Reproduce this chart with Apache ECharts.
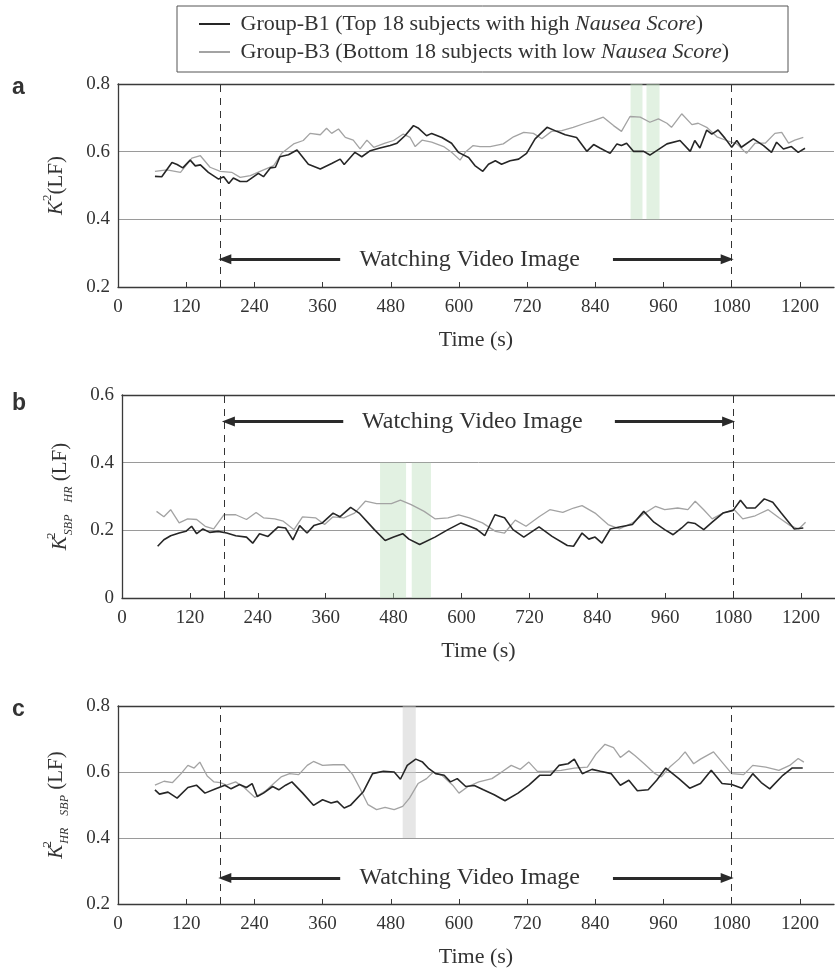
<!DOCTYPE html>
<html>
<head>
<meta charset="utf-8">
<script src="https://cdn.jsdelivr.net/npm/echarts@6/dist/echarts.min.js"></script>
<style>
  html, body { margin: 0; padding: 0; background: #fff; }
  #chart { width: 835px; height: 969px; }
</style>
</head>
<body>
<div id="chart"></div>
<script>
const serif = 'Liberation Serif, Times New Roman, serif';

const nameB1 = 'Group-B1 (Top 18 subjects with high Nausea Score)';
const nameB3 = 'Group-B3 (Bottom 18 subjects with low Nausea Score)';
const annotation = 'Watching Video Image';
const panelLetters = ['a', 'b', 'c'];

// [time (s), value]
const aB1 = [[65,0.527],[77,0.526],[95,0.568],[104,0.562],[114,0.552],[127,0.575],[136,0.558],[145,0.561],[159,0.539],[177,0.519],[186,0.526],[195,0.506],[203,0.522],[215,0.512],[227,0.512],[247,0.536],[256,0.526],[268,0.552],[277,0.554],[285,0.585],[300,0.591],[315,0.605],[335,0.563],[356,0.549],[376,0.565],[391,0.578],[398,0.562],[417,0.598],[429,0.585],[444,0.603],[461,0.611],[479,0.618],[491,0.625],[505,0.647],[520,0.677],[529,0.669],[543,0.647],[552,0.654],[570,0.642],[587,0.625],[599,0.598],[617,0.583],[628,0.559],[642,0.542],[652,0.563],[664,0.573],[675,0.563],[690,0.573],[705,0.578],[719,0.595],[734,0.638],[755,0.672],[772,0.660],[787,0.650],[807,0.642],[825,0.601],[837,0.621],[848,0.611],[866,0.595],[878,0.623],[886,0.618],[895,0.625],[907,0.601],[925,0.601],[936,0.590],[948,0.603],[966,0.623],[989,0.633],[1007,0.601],[1015,0.633],[1024,0.611],[1036,0.664],[1045,0.652],[1056,0.664],[1068,0.640],[1080,0.613],[1089,0.633],[1097,0.613],[1118,0.638],[1136,0.618],[1150,0.598],[1159,0.628],[1171,0.608],[1185,0.615],[1197,0.598],[1209,0.610]];
const aB3 = [[65,0.542],[86,0.546],[110,0.539],[130,0.581],[145,0.588],[162,0.554],[180,0.542],[200,0.539],[215,0.524],[233,0.529],[250,0.542],[274,0.559],[288,0.595],[309,0.623],[326,0.633],[338,0.654],[356,0.650],[367,0.669],[376,0.654],[388,0.667],[400,0.642],[414,0.634],[426,0.608],[438,0.634],[450,0.613],[470,0.625],[485,0.633],[502,0.652],[514,0.642],[523,0.615],[535,0.634],[552,0.628],[573,0.615],[587,0.598],[602,0.575],[611,0.598],[625,0.618],[637,0.615],[655,0.615],[678,0.623],[696,0.644],[714,0.657],[731,0.654],[746,0.638],[763,0.660],[781,0.662],[801,0.672],[822,0.684],[837,0.692],[854,0.702],[872,0.677],[886,0.660],[901,0.704],[919,0.702],[936,0.687],[951,0.697],[966,0.684],[974,0.672],[992,0.712],[1010,0.680],[1021,0.684],[1036,0.672],[1054,0.644],[1071,0.633],[1089,0.623],[1106,0.595],[1121,0.625],[1139,0.625],[1156,0.654],[1168,0.657],[1180,0.625],[1191,0.634],[1206,0.642]];

const bB1 = [[63,0.153],[74,0.172],[86,0.184],[101,0.192],[113,0.197],[123,0.212],[132,0.190],[143,0.204],[155,0.194],[170,0.197],[185,0.192],[201,0.184],[220,0.180],[231,0.162],[243,0.190],[258,0.182],[276,0.210],[289,0.207],[302,0.172],[314,0.214],[327,0.192],[339,0.214],[354,0.222],[373,0.251],[385,0.240],[404,0.268],[419,0.251],[446,0.202],[465,0.170],[480,0.180],[496,0.190],[507,0.174],[526,0.158],[553,0.180],[576,0.202],[599,0.222],[614,0.212],[626,0.204],[641,0.184],[659,0.246],[676,0.237],[691,0.202],[710,0.180],[737,0.210],[760,0.182],[787,0.155],[798,0.153],[813,0.192],[825,0.174],[836,0.180],[848,0.162],[863,0.204],[879,0.210],[902,0.217],[922,0.256],[940,0.224],[959,0.202],[974,0.187],[989,0.207],[1000,0.224],[1013,0.220],[1028,0.202],[1043,0.224],[1062,0.251],[1080,0.259],[1093,0.289],[1104,0.266],[1119,0.266],[1135,0.293],[1150,0.283],[1165,0.251],[1188,0.204],[1204,0.207]];
const bB3 = [[61,0.256],[74,0.240],[86,0.261],[101,0.222],[116,0.234],[132,0.232],[147,0.212],[162,0.204],[180,0.246],[201,0.246],[220,0.232],[237,0.253],[250,0.237],[270,0.234],[285,0.227],[304,0.202],[319,0.240],[342,0.237],[358,0.217],[373,0.240],[392,0.237],[411,0.251],[430,0.286],[450,0.279],[476,0.279],[492,0.289],[511,0.276],[534,0.256],[553,0.234],[576,0.237],[595,0.246],[614,0.237],[637,0.222],[660,0.197],[676,0.192],[695,0.230],[714,0.212],[737,0.240],[756,0.261],[779,0.253],[798,0.266],[813,0.273],[836,0.251],[859,0.217],[879,0.204],[902,0.222],[924,0.251],[943,0.271],[959,0.261],[982,0.266],[1000,0.261],[1013,0.286],[1028,0.261],[1043,0.234],[1062,0.251],[1082,0.261],[1097,0.234],[1119,0.243],[1142,0.261],[1161,0.237],[1181,0.214],[1196,0.204],[1208,0.224]];

const cB1 = [[65,0.546],[73,0.533],[88,0.539],[104,0.521],[123,0.553],[138,0.560],[153,0.536],[172,0.549],[188,0.560],[199,0.549],[214,0.562],[226,0.553],[236,0.565],[245,0.526],[256,0.536],[272,0.556],[283,0.546],[295,0.560],[306,0.570],[325,0.536],[344,0.499],[360,0.516],[375,0.506],[386,0.511],[398,0.491],[409,0.499],[432,0.541],[448,0.595],[467,0.602],[486,0.600],[497,0.578],[509,0.620],[524,0.639],[536,0.630],[547,0.610],[559,0.595],[574,0.590],[585,0.570],[597,0.580],[612,0.556],[627,0.559],[643,0.546],[662,0.531],[681,0.513],[704,0.536],[723,0.560],[742,0.590],[761,0.590],[776,0.620],[792,0.625],[803,0.639],[817,0.595],[834,0.608],[849,0.602],[868,0.595],[884,0.560],[899,0.575],[914,0.543],[933,0.546],[948,0.575],[964,0.612],[987,0.580],[1006,0.551],[1025,0.565],[1044,0.605],[1063,0.565],[1080,0.562],[1098,0.551],[1117,0.595],[1132,0.568],[1147,0.549],[1170,0.590],[1186,0.612],[1205,0.612]];
const cB3 = [[65,0.560],[81,0.572],[96,0.568],[111,0.595],[123,0.620],[134,0.612],[144,0.630],[157,0.588],[169,0.570],[180,0.568],[191,0.560],[207,0.570],[222,0.553],[241,0.523],[260,0.543],[276,0.568],[287,0.585],[302,0.595],[318,0.592],[333,0.620],[344,0.632],[360,0.620],[379,0.622],[398,0.622],[413,0.592],[425,0.553],[440,0.501],[455,0.486],[470,0.493],[486,0.486],[501,0.496],[513,0.521],[528,0.565],[543,0.580],[555,0.600],[570,0.590],[589,0.560],[600,0.536],[616,0.556],[635,0.570],[658,0.580],[677,0.602],[692,0.620],[708,0.608],[723,0.630],[738,0.602],[757,0.602],[780,0.605],[803,0.612],[826,0.615],[841,0.654],[857,0.684],[872,0.674],[884,0.644],[899,0.664],[910,0.649],[926,0.625],[945,0.595],[956,0.585],[971,0.615],[987,0.639],[998,0.661],[1013,0.625],[1025,0.639],[1048,0.661],[1063,0.630],[1080,0.595],[1101,0.592],[1117,0.620],[1140,0.615],[1163,0.605],[1182,0.620],[1197,0.641],[1207,0.630]];

// shaded intervals [t0, t1, v0, v1]
const aShade = [[902,923,0.4,0.8],[930,953,0.4,0.8]];
const bShade = [[456,502,0,0.4],[512,546,0,0.4]];
const cShade = [[501,524,0.4,0.8]];

const videoStart = 180, videoEnd = 1080;
const arrowLeftEnd = 391, arrowRightStart = 871, textAt = 619;

const panels = [
  { b1: aB1, b3: aB3, shade: aShade, shadeColor: 'rgba(190,225,190,0.45)', yMin: 0.2, yMax: 0.8, arrowY: 0.282,
    yName: '{k|K}{sup|2}{n|(LF)}', grid: { left: 118, right: 1, top: 84, height: 203 }, letterTop: 71 },
  { b1: bB1, b3: bB3, shade: bShade, shadeColor: 'rgba(190,225,190,0.45)', yMin: 0, yMax: 0.6, arrowY: 0.522,
    yName: '{k|K}{sups|2}{sub|SBP    HR}{n| (LF)}', grid: { left: 122, right: 0, top: 395, height: 203 }, letterTop: 387 },
  { b1: cB1, b3: cB3, shade: cShade, shadeColor: 'rgba(205,205,205,0.5)', yMin: 0.2, yMax: 0.8, arrowY: 0.279,
    yName: '{k|K}{sups|2}{sub|HR    SBP}{n| (LF)}', grid: { left: 118, right: 1, top: 706, height: 203 }, letterTop: 693 }
];

const axisColor = '#3a3a3a';
const richName = {
  k: { fontFamily: serif, fontStyle: 'italic', fontSize: 21, lineHeight: 30, color: '#333' },
  n: { fontFamily: serif, fontSize: 21, lineHeight: 30, color: '#333' },
  sup: { fontFamily: serif, fontSize: 13, lineHeight: 14, verticalAlign: 'top', color: '#333' },
  sups: { fontFamily: serif, fontSize: 13, lineHeight: 14, width: 1, verticalAlign: 'top', color: '#333' },
  sub: { fontFamily: serif, fontStyle: 'italic', fontSize: 12, lineHeight: 14, verticalAlign: 'bottom', color: '#333' }
};

const grids = [], xAxes = [], yAxes = [], series = [], titles = [];

panels.forEach((p, i) => {
  grids.push(p.grid);
  xAxes.push({
    type: 'value', gridIndex: i, min: 0, max: 1260, interval: 120,
    position: 'bottom',
    name: 'Time (s)', nameLocation: 'middle', nameGap: 42,
    nameTextStyle: { fontFamily: serif, fontSize: 22, color: '#333' },
    axisLine: { lineStyle: { color: axisColor, width: 1.3 } },
    axisTick: { inside: true, length: 5, lineStyle: { color: axisColor } },
    axisLabel: { fontFamily: serif, fontSize: 19, color: '#333', margin: 11, showMaxLabel: false,
                 formatter: v => String(v) },
    splitLine: { show: false }
  });
  xAxes.push({
    type: 'value', gridIndex: i, min: 0, max: 1260, position: 'top',
    axisLine: { lineStyle: { color: axisColor, width: 1.3 } },
    axisTick: { show: false }, axisLabel: { show: false }, splitLine: { show: false }
  });
  yAxes.push({
    type: 'value', gridIndex: i, min: p.yMin, max: p.yMax, interval: 0.2,
    name: p.yName, nameLocation: 'middle', nameRotate: 90, nameGap: 47,
    nameTextStyle: { rich: richName },
    axisLine: { show: true, lineStyle: { color: axisColor, width: 1.3 } },
    axisTick: { show: false },
    axisLabel: { fontFamily: serif, fontSize: 19, color: '#333', margin: 8 },
    splitLine: { lineStyle: { color: '#9a9a9a', width: 1 } }
  });

  series.push({
    name: nameB1, type: 'line', xAxisIndex: i * 2, yAxisIndex: i,
    data: p.b1, showSymbol: false, z: 4,
    lineStyle: { color: '#262626', width: 1.6 }, itemStyle: { color: '#262626' },
    markArea: {
      silent: true, itemStyle: { color: p.shadeColor },
      data: p.shade.map(s => [{ coord: [s[0], s[2]] }, { coord: [s[1], s[3]] }])
    },
    markLine: {
      silent: true, symbol: 'none', animation: false, label: { show: false },
      lineStyle: { type: [7, 6], color: '#333', width: 1 },
      data: [{ xAxis: videoStart }, { xAxis: videoEnd }]
    }
  });
  series.push({
    name: nameB3, type: 'line', xAxisIndex: i * 2, yAxisIndex: i,
    data: p.b3, showSymbol: false, z: 3,
    lineStyle: { color: '#a3a3a3', width: 1.3 }, itemStyle: { color: '#a3a3a3' },
    markLine: {
      silent: true, symbol: ['none', 'triangle'], symbolSize: [10, 13], animation: false,
      label: { show: false },
      lineStyle: { type: 'solid', color: '#2a2a2a', width: 3 },
      data: [
        [{ coord: [arrowLeftEnd, p.arrowY] }, { coord: [videoStart + 8, p.arrowY] }],
        [{ coord: [arrowRightStart, p.arrowY] }, { coord: [videoEnd - 8, p.arrowY] }]
      ]
    },
    markPoint: {
      silent: true, symbol: 'rect', symbolSize: 1, itemStyle: { color: 'rgba(0,0,0,0)' },
      label: { show: true, position: 'inside', formatter: annotation, fontFamily: serif, fontSize: 24, color: '#333' },
      data: [{ coord: [textAt, p.arrowY] }]
    }
  });

  titles.push({
    text: panelLetters[i], left: 7, top: p.letterTop,
    textStyle: { fontFamily: 'Liberation Sans, Arial, sans-serif', fontWeight: 'bold', fontSize: 23, color: '#333' }
  });
});

const chart = echarts.init(document.getElementById('chart'));
chart.setOption({
  animation: false,
  title: titles,
  grid: grids,
  xAxis: xAxes,
  yAxis: yAxes,
  legend: {
    data: [nameB1, nameB3],
    orient: 'vertical', left: 194, top: 7, itemGap: 4,
    icon: 'rect', itemWidth: 31, itemHeight: 2,
    formatter: name => ' ' + name.replace('Nausea Score', '{i|Nausea Score}'),
    textStyle: {
      fontFamily: serif, fontSize: 22, color: '#333', lineHeight: 24,
      rich: { i: { fontFamily: serif, fontStyle: 'italic', fontSize: 22, color: '#333', lineHeight: 24 } }
    }
  },
  graphic: [{
    type: 'rect', shape: { x: 177, y: 6, width: 611, height: 66 },
    style: { fill: 'none', stroke: '#555', lineWidth: 1 }
  }],
  series: series
});
</script>
</body>
</html>
